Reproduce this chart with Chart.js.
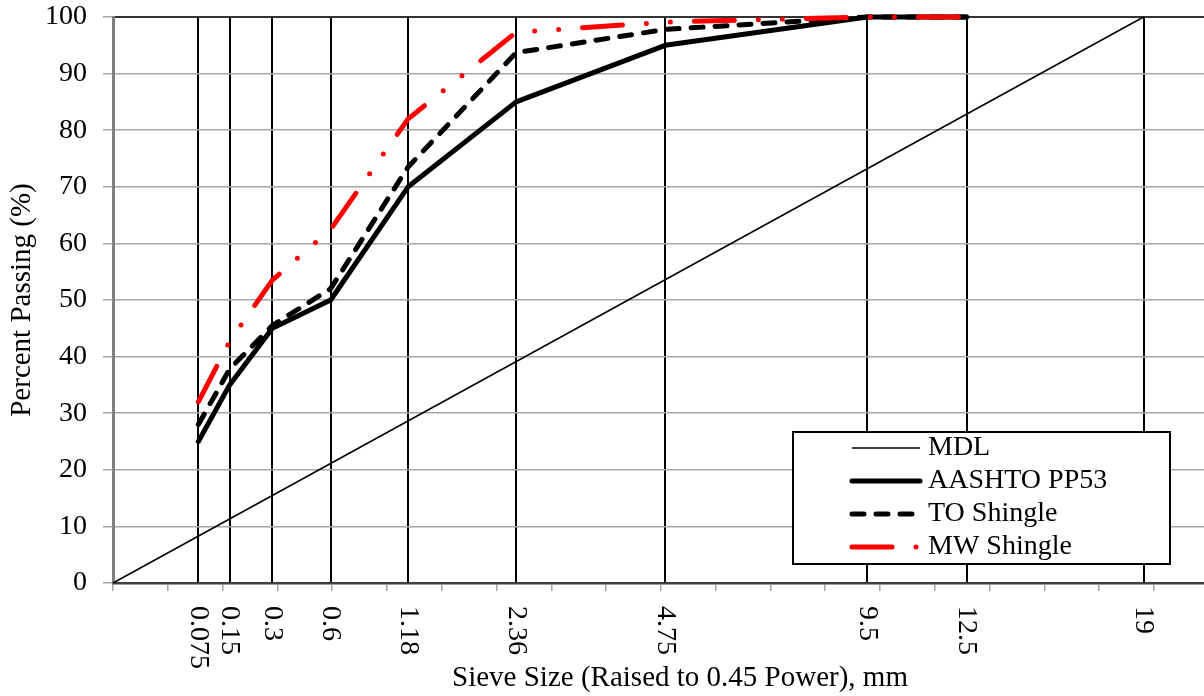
<!DOCTYPE html>
<html>
<head>
<meta charset="utf-8">
<script src="https://cdn.jsdelivr.net/npm/chart.js@4"></script>
<style>
  html, body { margin: 0; padding: 0; background: #fff; overflow: hidden; }
  #wrap { width: 1247px; height: 696px; }
</style>
</head>
<body>
<div id="wrap"><canvas id="chart" width="1247" height="696"></canvas></div>
<script>
const sieveSizes = [0.075, 0.15, 0.3, 0.6, 1.18, 2.36, 4.75, 9.5, 12.5, 19];
const sieveLabels = ["0.075", "0.15", "0.3", "0.6", "1.18", "2.36", "4.75", "9.5", "12.5", "19"];

// gradations stop at 12.5 mm (100 % passing)
const gradationSizes = [0.075, 0.15, 0.3, 0.6, 1.18, 2.36, 4.75, 9.5, 12.5];
const aashtoPassing = [25, 35, 45, 50, 70, 85, 95, 100, 100];
const toPassing = [28, 37.8, 45.5, 52, 73.5, 93.7, 97.8, 100, 100];
const mwPassing = [32, 42.7, 53.5, 62.5, 82, 97.3, 99.1, 100, 100];

// maximum density line, origin to max size
const mdlSizes = [0, 19];
const mdlPassing = [0, 100];

const minorTicks = [0, 0.2, 0.4, 0.6, 0.8, 1.0, 1.2, 1.4, 1.6, 1.8, 2.0,
  2.2, 2.4, 2.6, 2.8, 3.0, 3.2, 3.4, 3.6, 3.8, 4.0];

const POWER = 0.45;
const toX = (size) => Math.pow(size, POWER);
const points = (sizes, values) => sizes.map((s, i) => ({ x: toX(s), y: values[i] }));

const serif = '"Liberation Serif", "Times New Roman", serif';
Chart.defaults.font.family = serif;
Chart.defaults.color = "#000";

const sieveLabelPlugin = {
  id: "sieveLabels",
  afterDraw(chart) {
    const scale = chart.scales.sieve;
    const ctx = chart.ctx;
    const top = chart.chartArea.bottom + 23;
    ctx.save();
    ctx.font = "28px " + serif;
    ctx.fillStyle = "#000";
    ctx.textAlign = "left";
    ctx.textBaseline = "middle";
    sieveSizes.forEach((s, i) => {
      ctx.save();
      ctx.translate(scale.getPixelForValue(toX(s)), top);
      ctx.rotate(Math.PI / 2);
      ctx.fillText(sieveLabels[i], 0, 0);
      ctx.restore();
    });
    ctx.restore();
  },
};

const boxLegendPlugin = {
  id: "boxLegend",
  afterDraw(chart) {
    const ctx = chart.ctx;
    ctx.save();
    ctx.fillStyle = "#fff";
    ctx.fillRect(793, 432, 377, 132);
    ctx.strokeStyle = "#000";
    ctx.lineWidth = 2;
    ctx.strokeRect(793, 432, 377, 132);
    chart.data.datasets.forEach((ds, i) => {
      const y = 448 + i * 33;
      ctx.beginPath();
      ctx.setLineDash(ds.borderDash || []);
      ctx.lineCap = ds.borderCapStyle || "butt";
      ctx.lineWidth = ds.borderWidth;
      ctx.strokeStyle = ds.borderColor;
      ctx.moveTo(852, y);
      ctx.lineTo(920, y);
      ctx.stroke();
      ctx.setLineDash([]);
      ctx.fillStyle = "#000";
      ctx.font = "28px " + serif;
      ctx.textAlign = "left";
      ctx.textBaseline = "middle";
      ctx.fillText(ds.label, 928, y);
    });
    ctx.restore();
  },
};

new Chart(document.getElementById("chart"), {
  type: "line",
  data: {
    datasets: [
      {
        label: "MDL",
        data: points(mdlSizes, mdlPassing),
        borderColor: "#000",
        borderWidth: 1.5,
        order: 3,
      },
      {
        label: "AASHTO PP53",
        data: points(gradationSizes, aashtoPassing),
        borderColor: "#000",
        borderWidth: 5,
        borderCapStyle: "round",
        borderJoinStyle: "round",
        order: 2,
      },
      {
        label: "TO Shingle",
        data: points(gradationSizes, toPassing),
        borderColor: "#000",
        borderWidth: 5,
        borderDash: [12, 12],
        borderCapStyle: "round",
        borderJoinStyle: "round",
        order: 1,
      },
      {
        label: "MW Shingle",
        data: points(gradationSizes, mwPassing),
        borderColor: "#ff0000",
        borderWidth: 5,
        borderDash: [40, 24, 0, 24, 0, 24],
        borderCapStyle: "round",
        borderJoinStyle: "round",
        order: 0,
      },
    ],
  },
  options: {
    responsive: false,
    animation: false,
    devicePixelRatio: 1,
    layout: { padding: { top: 17, left: 0, right: 0, bottom: 0 } },
    elements: {
      point: { radius: 0, hoverRadius: 0 },
      line: { tension: 0 },
    },
    datasets: { line: { clip: false } },
    plugins: {
      legend: { display: false },
      tooltip: { enabled: false },
    },
    scales: {
      x: {
        type: "linear",
        position: "bottom",
        min: 0,
        max: 4.14,
        afterBuildTicks: (s) => { s.ticks = minorTicks.map((v) => ({ value: v })); },
        afterFit: (s) => { s.height = 113; s.paddingLeft = 0; s.paddingRight = 0; },
        grid: { drawOnChartArea: false, tickLength: 8, color: "#a6a6a6", lineWidth: 1.5 },
        border: { color: "#404040", width: 2.5 },
        ticks: { display: false },
        title: {
          display: true,
          text: "Sieve Size (Raised to 0.45 Power), mm",
          font: { size: 29 },
          color: "#000",
          padding: 0,
        },
      },
      sieve: {
        type: "linear",
        position: "top",
        min: 0,
        max: 4.14,
        afterBuildTicks: (s) => { s.ticks = sieveSizes.map((v) => ({ value: toX(v) })); },
        afterFit: (s) => { s.height = 0; s.paddingLeft = 0; s.paddingRight = 0; },
        grid: { color: "#000", lineWidth: 2, drawTicks: false },
        border: { color: "#333", width: 2 },
        ticks: { display: false },
      },
      y: {
        min: 0,
        max: 100,
        afterFit: (s) => { s.width = 113; s.paddingTop = 0; s.paddingBottom = 0; },
        ticks: { stepSize: 10, padding: 16, color: "#000", font: { size: 28 } },
        grid: { color: "#a6a6a6", lineWidth: 1.5, tickLength: 10 },
        border: { color: "#808080", width: 3 },
        title: {
          display: true,
          text: "Percent Passing (%)",
          font: { size: 29 },
          color: "#000",
          padding: { top: 5, bottom: 0 },
        },
      },
    },
  },
  plugins: [sieveLabelPlugin, boxLegendPlugin],
});
</script>
</body>
</html>
